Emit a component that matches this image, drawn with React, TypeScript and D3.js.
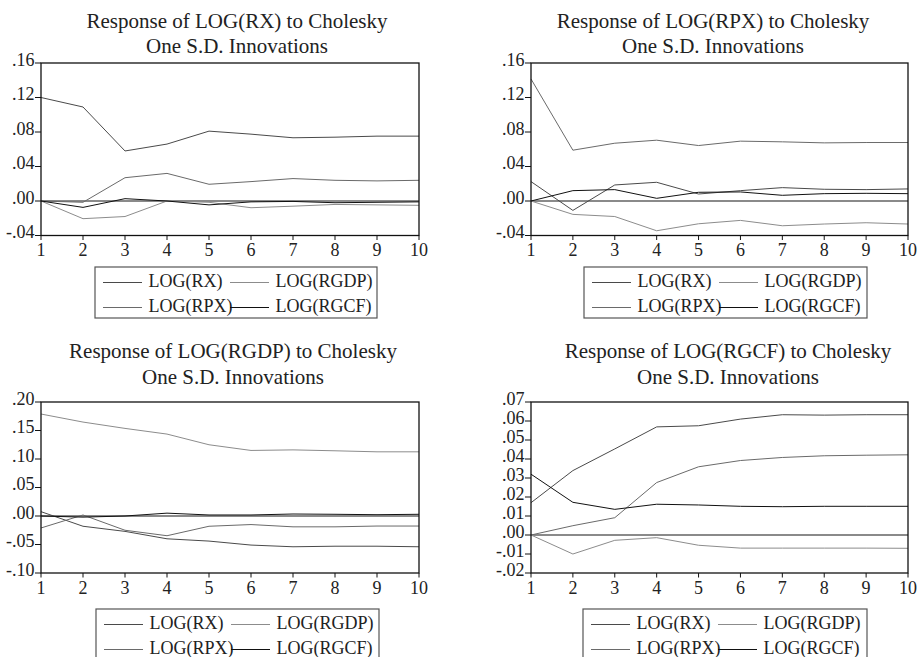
import React from "react";
import * as d3 from "d3";

const steps = [1, 2, 3, 4, 5, 6, 7, 8, 9, 10];
const seriesNames = ["LOG(RX)", "LOG(RPX)", "LOG(RGDP)", "LOG(RGCF)"];
const seriesColors = ["#4a4a4a", "#6a6a6a", "#8c8c8c", "#111111"];

// Response of LOG(RX)
const rxRX = [0.12, 0.109, 0.058, 0.066, 0.081, 0.0775, 0.0733, 0.074, 0.0752, 0.0752];
const rxRPX = [0, -0.0015, 0.027, 0.032, 0.0194, 0.0225, 0.026, 0.024, 0.0233, 0.024];
const rxRGDP = [0, -0.0205, -0.018, 0.0, -0.0015, -0.0078, -0.006, -0.004, -0.0045, -0.005];
const rxRGCF = [0, -0.0074, 0.0027, 0, -0.0045, -0.001, -0.0005, -0.002, -0.0015, -0.001];

// Response of LOG(RPX)
const rpxRX = [0.0225, -0.0109, 0.0186, 0.0217, 0.0081, 0.012, 0.0155, 0.0136, 0.0132, 0.014];
const rpxRPX = [0.1415, 0.0589, 0.067, 0.0705, 0.0643, 0.0694, 0.0686, 0.0674, 0.0678, 0.0678];
const rpxRGDP = [0, -0.0155, -0.018, -0.0345, -0.0264, -0.0225, -0.0287, -0.0267, -0.0252, -0.0267];
const rpxRGCF = [0, 0.012, 0.0132, 0.0031, 0.0101, 0.0105, 0.0066, 0.0085, 0.0089, 0.0085];

// Response of LOG(RGDP)
const rgdpRX = [0.0076, -0.018, -0.027, -0.04, -0.044, -0.051, -0.054, -0.053, -0.053, -0.054];
const rgdpRPX = [-0.021, 0.0018, -0.025, -0.0346, -0.018, -0.015, -0.019, -0.019, -0.0176, -0.0176];
const rgdpRGDP = [0.1789, 0.1648, 0.1537, 0.1437, 0.125, 0.115, 0.116, 0.1144, 0.1126, 0.1126];
const rgdpRGCF = [0, -0.002, 0, 0.005, 0.0018, 0.0018, 0.0035, 0.003, 0.0023, 0.003];

// Response of LOG(RGCF)
const rgcfRX = [0.017, 0.0339, 0.0453, 0.0569, 0.0575, 0.061, 0.0633, 0.0631, 0.0633, 0.0633];
const rgcfRPX = [0, 0.0049, 0.0091, 0.0276, 0.0359, 0.0392, 0.0408, 0.0417, 0.042, 0.0422];
const rgcfRGDP = [0, -0.01, -0.0028, -0.0014, -0.0054, -0.0069, -0.0069, -0.0069, -0.0069, -0.007];
const rgcfRGCF = [0.032, 0.0172, 0.0135, 0.0162, 0.0158, 0.0151, 0.0149, 0.0151, 0.0151, 0.0151];

const ticksRX = [-0.04, 0, 0.04, 0.08, 0.12, 0.16];
const ticksRPX = [-0.04, 0, 0.04, 0.08, 0.12, 0.16];
const ticksRGDP = [-0.1, -0.05, 0, 0.05, 0.1, 0.15, 0.2];
const ticksRGCF = [-0.02, -0.01, 0, 0.01, 0.02, 0.03, 0.04, 0.05, 0.06, 0.07];

const titles = [
  "Response of LOG(RX) to Cholesky",
  "Response of LOG(RPX) to Cholesky",
  "Response of LOG(RGDP) to Cholesky",
  "Response of LOG(RGCF) to Cholesky",
];
const subtitle = "One S.D. Innovations";

const FONT = "'Liberation Serif', 'Times New Roman', serif";

const panels = [
  {
    title: titles[0], series: [rxRX, rxRPX, rxRGDP, rxRGCF], ticks: ticksRX,
    x0: 41, x1: 419, y0: 63, y1: 235.5, tc: 237, tb: 27.5, xb: 256,
    lg: { x: 95, y: 267, w: 282, h: 51 },
  },
  {
    title: titles[1], series: [rpxRX, rpxRPX, rpxRGDP, rpxRGCF], ticks: ticksRPX,
    x0: 531, x1: 908, y0: 63, y1: 235.5, tc: 713, tb: 27.5, xb: 256,
    lg: { x: 584, y: 267, w: 283, h: 51 },
  },
  {
    title: titles[2], series: [rgdpRX, rgdpRPX, rgdpRGDP, rgdpRGCF], ticks: ticksRGDP,
    x0: 41, x1: 419, y0: 402, y1: 573, tc: 233, tb: 358, xb: 594,
    lg: { x: 96, y: 609, w: 283, h: 51 },
  },
  {
    title: titles[3], series: [rgcfRX, rgcfRPX, rgcfRGDP, rgcfRGCF], ticks: ticksRGCF,
    x0: 531, x1: 908, y0: 402, y1: 573, tc: 728, tb: 358, xb: 594,
    lg: { x: 583, y: 609, w: 284, h: 51 },
  },
];

const fmt = (v: number) => {
  const s = Math.abs(v).toFixed(2).replace(/^0/, "");
  return (v < -1e-9 ? "-" : "") + s;
};

function Panel({ p }: { p: any }) {
  const x = d3.scaleLinear().domain([1, 10]).range([p.x0, p.x1]);
  const y = d3.scaleLinear().domain(d3.extent(p.ticks) as [number, number]).range([p.y1, p.y0]);
  const line = d3
    .line<number>()
    .x((_, i) => x(steps[i]))
    .y((d) => y(d));
  const legendItems = [
    { i: 0, col: 0, row: 0 },
    { i: 1, col: 0, row: 1 },
    { i: 2, col: 1, row: 0 },
    { i: 3, col: 1, row: 1 },
  ];
  return (
    <g>
      <text x={p.tc} y={p.tb} textAnchor="middle" fontSize={21} fill="#222" fontFamily={FONT}>
        {p.title}
      </text>
      <text x={p.tc} y={p.tb + 25.5} textAnchor="middle" fontSize={21} fill="#222" fontFamily={FONT}>
        {subtitle}
      </text>
      <line x1={p.x0} x2={p.x1} y1={y(0)} y2={y(0)} stroke="#8a8a8a" strokeWidth={2} />
      {p.series.map((s: number[], k: number) => (
        <path key={k} d={line(s) || ""} fill="none" stroke={seriesColors[k]} strokeWidth={1} />
      ))}
      <rect x={p.x0} y={p.y0} width={p.x1 - p.x0} height={p.y1 - p.y0} fill="none" stroke="#111" strokeWidth={1.3} />
      {p.ticks.map((t: number) => (
        <g key={t}>
          <line x1={p.x0 - 6} x2={p.x0} y1={y(t)} y2={y(t)} stroke="#111" strokeWidth={1} />
          <text x={p.x0 - 6.5} y={y(t) + 2.5} textAnchor="end" fontSize={18} fill="#222" fontFamily={FONT}>
            {fmt(t)}
          </text>
        </g>
      ))}
      {steps.map((s) => (
        <g key={s}>
          <line x1={x(s)} x2={x(s)} y1={p.y1} y2={p.y1 + 4.5} stroke="#111" strokeWidth={1} />
          <text x={x(s)} y={p.xb} textAnchor="middle" fontSize={18} fill="#222" fontFamily={FONT}>
            {s}
          </text>
        </g>
      ))}
      <rect x={p.lg.x} y={p.lg.y} width={p.lg.w} height={p.lg.h} fill="#fff" stroke="#555" strokeWidth={1.2} />
      {legendItems.map((it) => {
        const lx = p.lg.x + (it.col === 0 ? 8 : 135);
        const ly = p.lg.y + (it.row === 0 ? 15.5 : 40.5);
        return (
          <g key={it.i}>
            <line x1={lx} x2={lx + 39} y1={ly} y2={ly} stroke={seriesColors[it.i]} strokeWidth={1.2} />
            <text x={lx + 45.5} y={ly + 4.8} fontSize={18} fill="#222" fontFamily={FONT}>
              {seriesNames[it.i]}
            </text>
          </g>
        );
      })}
    </g>
  );
}

export default function App() {
  return (
    <svg
      width={920}
      height={657}
      viewBox="0 0 920 657"
      style={{ position: "absolute", left: 0, top: 0, background: "#fff" }}
    >
      <rect x={0} y={0} width={920} height={657} fill="#fff" />
      {panels.map((p, i) => (
        <Panel key={i} p={p} />
      ))}
    </svg>
  );
}
